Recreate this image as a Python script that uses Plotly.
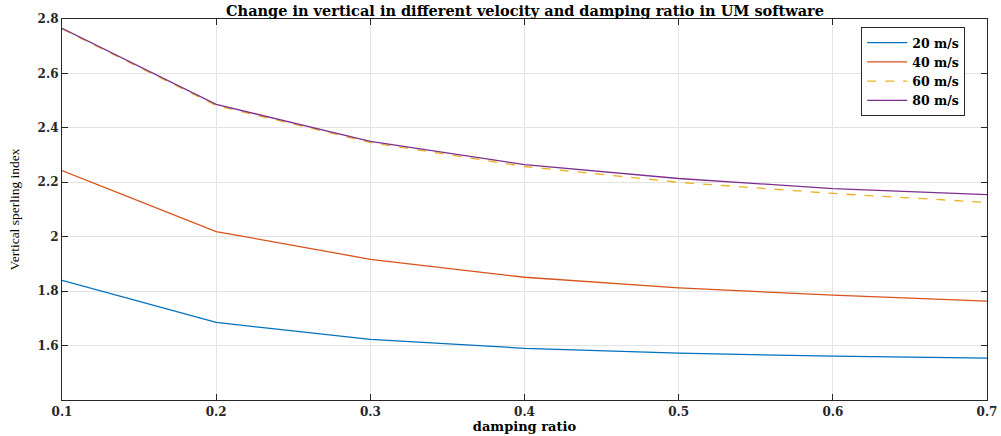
import plotly.graph_objects as go

damping = [0.1, 0.2, 0.3, 0.4, 0.5, 0.6, 0.7]
v20 = [1.840, 1.685, 1.623, 1.590, 1.572, 1.561, 1.554]
v40 = [2.243, 2.019, 1.917, 1.851, 1.812, 1.785, 1.763]
v60 = [2.764, 2.482, 2.346, 2.258, 2.200, 2.159, 2.126]
v80 = [2.766, 2.486, 2.350, 2.265, 2.214, 2.177, 2.155]
names = ["20 m/s", "40 m/s", "60 m/s", "80 m/s"]
colors = ["#0072BD", "#D95319", "#EDB120", "#7E2F8E"]
dashes = ["solid", "solid", "dash", "solid"]
yticks = [1.6, 1.8, 2.0, 2.2, 2.4, 2.6, 2.8]
yticktext = ["1.6", "1.8", "2", "2.2", "2.4", "2.6", "2.8"]
xticks = [0.1, 0.2, 0.3, 0.4, 0.5, 0.6, 0.7]

wide = "DejaVu Serif, serif"
times = "Liberation Serif, Times New Roman, serif"
fig = go.Figure()
for vals, n, c, d in zip([v20, v40, v60, v80], names, colors, dashes):
    fig.add_trace(go.Scatter(x=damping, y=vals, mode="lines", name="<b>" + n + "</b>",
                             line=dict(color=c, width=1.3, dash=d)))

axis_common = dict(showline=True, linecolor="#262626", linewidth=1.2, mirror="ticks",
                   ticks="inside", ticklen=6, tickcolor="#262626", automargin=False,
                   showgrid=True, gridcolor="#e3e3e3", gridwidth=1, zeroline=False,
                   tickfont=dict(family=wide, size=12, color="#262626"))
fig.update_layout(
    width=1001, height=436,
    margin=dict(l=62, r=14, t=19, b=36),
    paper_bgcolor="white", plot_bgcolor="white",
    title=dict(text="<b>Change in vertical in different velocity and damping ratio in UM software</b>",
               x=0.5245, xanchor="center", y=0.975, yanchor="middle",
               font=dict(family=wide, size=14.5, color="black")),
    legend=dict(x=0.864, y=0.979, xanchor="left", yanchor="top",
                bgcolor="white", bordercolor="#262626", borderwidth=1,
                font=dict(family=wide, size=12.5, color="black"),
                tracegroupgap=0, itemwidth=40),
    showlegend=True,
)
fig.update_xaxes(range=[0.1, 0.7], tickvals=xticks,
                 ticktext=["<b>%g</b>" % t for t in xticks],
                 title=dict(text="<b>damping ratio</b>", font=dict(family=wide, size=13, color="black"), standoff=4),
                 **axis_common)
fig.update_yaxes(range=[1.4, 2.8], tickvals=yticks,
                 ticktext=["<b>%s</b>" % t for t in yticktext],
                 title=dict(text="Vertical sperling index", font=dict(family=times, size=13.5, color="black"), standoff=14),
                 **axis_common)
fig.write_html("out.html", config={"displayModeBar": False},
               post_script="document.body.style.margin='0';document.body.style.overflow='hidden';")
